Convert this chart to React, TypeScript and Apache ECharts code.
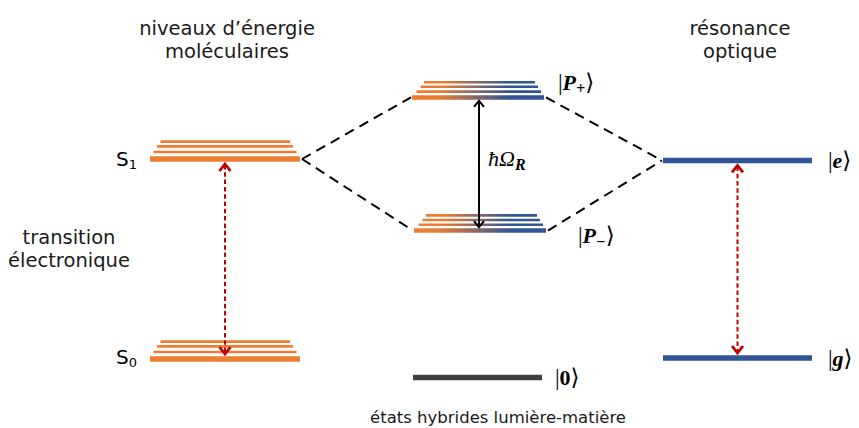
import React, { useEffect, useRef } from 'react';
import * as echarts from 'echarts';

// Energy scale: S0 = 0, S1 = 1 (arbitrary units)
const LEVEL_NAMES = ['S1', 'S0', 'P+', 'P-', '0', 'e', 'g'];
const LEVEL_KIND = ['molecular', 'molecular', 'hybrid', 'hybrid', 'vacuum', 'photon', 'photon'];
const LEVEL_ENERGY = [1.0, 0.0, 1.308, 0.642, -0.092, 0.993, 0.005];
const LEVEL_X_START = [150, 150, 412, 414, 413, 663, 663];
const LEVEL_X_END = [300, 300, 544, 546, 542, 812, 812];
const LEVEL_LABELS = [
  '{sans|S}{sansSub|1}',
  '{sans|S}{sansSub|0}',
  '{m||}{bi|P}{sub|+}{m|\u27E9}',
  '{m||}{bi|P}{sub|\u2212}{m|\u27E9}',
  '{m||}{b|0}{m|\u27E9}',
  '{m||}{bi|e}{m|\u27E9}',
  '{m||}{bi|g}{m|\u27E9}',
];
const VIB_OFFSETS_MOLECULAR = [0.035, 0.063, 0.087];
const VIB_OFFSETS_HYBRID = [0.029, 0.053, 0.076];

const COUPLING_FROM = ['S1', 'S1', 'P+', 'P-'];
const COUPLING_TO = ['P+', 'P-', 'e', 'e'];

const TRANSITION_LOWER = ['S0', 'g', 'P-'];
const TRANSITION_UPPER = ['S1', 'e', 'P+'];
const TRANSITION_KIND = ['optical', 'optical', 'rabi'];
const TRANSITION_LABELS = ['', '', '{it|\u0127\u03A9}{sub|R}'];

const TITLES = [
  ['niveaux d\u2019\u00E9nergie', 'mol\u00E9culaires'],
  ['r\u00E9sonance', 'optique'],
  ['transition', '\u00E9lectronique'],
  ['\u00E9tats hybrides lumi\u00E8re-mati\u00E8re'],
];

// ---- styles ----
const ORANGE = '#ED7D31';
const BLUE = '#2F5597';
const GRAY = '#404040';
const RED = '#C00000';
const SANS = "'DejaVu Sans', 'Open Sans', sans-serif";
const SERIF = "'Liberation Serif', 'DejaVu Serif', serif";

const LABEL_POS: Record<string, { side: 'left' | 'right'; dx: number; dy: number }> = {
  S1: { side: 'left', dx: -13, dy: 0 },
  S0: { side: 'left', dx: -13, dy: -2 },
  'P+': { side: 'right', dx: 14, dy: -15 },
  'P-': { side: 'right', dx: 32, dy: 5 },
  '0': { side: 'right', dx: 13, dy: 0 },
  e: { side: 'right', dx: 16, dy: 0 },
  g: { side: 'right', dx: 16, dy: 0 },
};

const LABEL_RICH = {
  sans: { fontFamily: SANS, fontSize: 20, lineHeight: 24, color: '#222' },
  sansSub: { fontFamily: SANS, fontSize: 13, lineHeight: 10, verticalAlign: 'bottom', color: '#222' },
  m: { fontFamily: SERIF, fontSize: 23, lineHeight: 28, color: '#111' },
  bi: { fontFamily: SERIF, fontSize: 22, fontWeight: 'bold', fontStyle: 'italic', lineHeight: 28, color: '#111' },
  b: { fontFamily: SERIF, fontSize: 22, fontWeight: 'bold', lineHeight: 28, color: '#111' },
  it: { fontFamily: SERIF, fontSize: 22, fontStyle: 'italic', lineHeight: 28, color: '#111' },
  sub: { fontFamily: SERIF, fontSize: 16, fontWeight: 'bold', fontStyle: 'italic', lineHeight: 13, verticalAlign: 'bottom', color: '#111' },
};

const idx = (name: string) => LEVEL_NAMES.indexOf(name);

function hybridGradient() {
  return new echarts.graphic.LinearGradient(0, 0, 1, 0, [
    { offset: 0, color: ORANGE },
    { offset: 0.18, color: ORANGE },
    { offset: 0.75, color: BLUE },
    { offset: 1, color: BLUE },
  ]);
}

function levelColor(kind: string): any {
  if (kind === 'molecular') return ORANGE;
  if (kind === 'photon') return BLUE;
  if (kind === 'vacuum') return GRAY;
  return hybridGradient();
}

export default function App() {
  const ref = useRef<HTMLDivElement>(null);
  useEffect(() => {
    if (!ref.current) return;
    const chart = echarts.init(ref.current, undefined, { renderer: 'svg' });

    const renderLevel = (params: any, api: any) => {
      const i = api.value(0);
      const kind = LEVEL_KIND[i];
      const E = LEVEL_ENERGY[i];
      const [x0, y] = api.coord([LEVEL_X_START[i], E]);
      const [x1] = api.coord([LEVEL_X_END[i], E]);
      const children: any[] = [];
      const mainH = kind === 'hybrid' ? 4.5 : 5.5;
      children.push({
        type: 'rect',
        shape: { x: x0, y: y - mainH / 2, width: x1 - x0, height: mainH },
        style: { fill: levelColor(kind) },
      });
      if (kind === 'molecular' || kind === 'hybrid') {
        const offs = kind === 'molecular' ? VIB_OFFSETS_MOLECULAR : VIB_OFFSETS_HYBRID;
        const insL = kind === 'molecular' ? [3.5, 7, 10.5] : [4.5, 8.5, 12];
        const insR = kind === 'molecular' ? [3.5, 7, 10] : [3, 6, 9];
        offs.forEach((o, k) => {
          const [, yy] = api.coord([LEVEL_X_START[i], E + o]);
          const h = 2.6;
          children.push({
            type: 'rect',
            shape: { x: x0 + insL[k], y: yy - h / 2, width: x1 - x0 - insL[k] - insR[k], height: h },
            style: { fill: levelColor(kind) },
          });
        });
      }
      const lp = LABEL_POS[LEVEL_NAMES[i]];
      children.push({
        type: 'text',
        x: lp.side === 'left' ? x0 + lp.dx : x1 + lp.dx,
        y: y + lp.dy,
        style: {
          text: LEVEL_LABELS[i],
          align: lp.side === 'left' ? 'right' : 'left',
          verticalAlign: 'middle',
          rich: LABEL_RICH,
        },
      });
      return { type: 'group', children };
    };

    const renderCoupling = (params: any, api: any) => {
      const k = api.value(0);
      const a = idx(COUPLING_FROM[k]);
      const b = idx(COUPLING_TO[k]);
      const p0 = api.coord([LEVEL_X_END[a], LEVEL_ENERGY[a]]);
      const p1 = api.coord([LEVEL_X_START[b], LEVEL_ENERGY[b]]);
      return {
        type: 'line',
        shape: { x1: p0[0] + 2, y1: p0[1], x2: p1[0] - 1, y2: p1[1] },
        style: { stroke: '#000', lineWidth: 2, lineDash: [10, 6.5] },
      };
    };

    const renderTransition = (params: any, api: any) => {
      const k = api.value(0);
      const lo = idx(TRANSITION_LOWER[k]);
      const up = idx(TRANSITION_UPPER[k]);
      const cx =
        (LEVEL_X_START[lo] + LEVEL_X_END[lo] + LEVEL_X_START[up] + LEVEL_X_END[up]) / 4;
      const [x, yLo] = api.coord([cx, LEVEL_ENERGY[lo]]);
      const [, yUp] = api.coord([cx, LEVEL_ENERGY[up]]);
      const rabi = TRANSITION_KIND[k] === 'rabi';
      const gap = rabi ? 2.5 : 4;
      const yTop = yUp + gap;
      const yBot = yLo - gap;
      const color = rabi ? '#000' : RED;
      const hw = rabi ? 5 : 5.5;
      const hd = rabi ? 7 : 8;
      const headW = rabi ? 2 : 2.8;
      const children: any[] = [
        {
          type: 'line',
          shape: { x1: x, y1: yTop + 2, x2: x, y2: yBot - 2 },
          style: { stroke: color, lineWidth: 2, lineDash: rabi ? null : [4.5, 2.8] },
        },
        {
          type: 'polyline',
          shape: { points: [[x - hw, yTop + hd], [x, yTop + 1], [x + hw, yTop + hd]] },
          style: { stroke: color, lineWidth: headW, fill: 'none', lineJoin: 'miter' },
        },
        {
          type: 'polyline',
          shape: { points: [[x - hw, yBot - hd], [x, yBot - 1], [x + hw, yBot - hd]] },
          style: { stroke: color, lineWidth: headW, fill: 'none', lineJoin: 'miter' },
        },
      ];
      if (TRANSITION_LABELS[k]) {
        children.push({
          type: 'text',
          x: x + 9,
          y: (yTop + yBot) / 2 - 6,
          style: { text: TRANSITION_LABELS[k], align: 'left', verticalAlign: 'middle', rich: LABEL_RICH },
        });
      }
      return { type: 'group', children };
    };

    const titleLine = (text: string, x: number, y: number, size: number) => ({
      type: 'text',
      x,
      y,
      style: {
        text,
        font: `${size}px ${SANS}`,
        fill: '#1a1a1a',
        align: 'center',
        verticalAlign: 'middle',
      },
    });

    const titleAnchors = [
      { x: 227, y: 28, size: 19.5 },
      { x: 740, y: 28, size: 19.5 },
      { x: 69, y: 237, size: 19.5 },
      { x: 498, y: 417, size: 16.5 },
    ];
    const lineGap = 23;
    const graphic: any[] = [];
    TITLES.forEach((lines, t) => {
      const a = titleAnchors[t];
      lines.forEach((line, j) => graphic.push(titleLine(line, a.x, a.y + j * lineGap, a.size)));
    });

    chart.setOption({
      animation: false,
      grid: { left: 0, right: 0, top: 9, bottom: 9 },
      xAxis: { type: 'value', min: 0, max: 859, show: false },
      yAxis: { type: 'value', min: -0.3, max: 1.75, show: false },
      graphic,
      series: [
        {
          type: 'custom',
          name: 'couplings',
          coordinateSystem: 'cartesian2d',
          clip: false,
          silent: true,
          data: COUPLING_FROM.map((_, k) => [k]),
          renderItem: renderCoupling,
        },
        {
          type: 'custom',
          name: 'levels',
          coordinateSystem: 'cartesian2d',
          clip: false,
          silent: true,
          data: LEVEL_NAMES.map((_, i) => [i]),
          renderItem: renderLevel,
        },
        {
          type: 'custom',
          name: 'transitions',
          coordinateSystem: 'cartesian2d',
          clip: false,
          silent: true,
          data: TRANSITION_KIND.map((_, k) => [k]),
          renderItem: renderTransition,
        },
      ],
    });
    return () => chart.dispose();
  }, []);
  return (
    <div
      ref={ref}
      style={{ position: 'fixed', left: 0, top: 0, width: 859, height: 428, background: '#fff' }}
    />
  );
}
